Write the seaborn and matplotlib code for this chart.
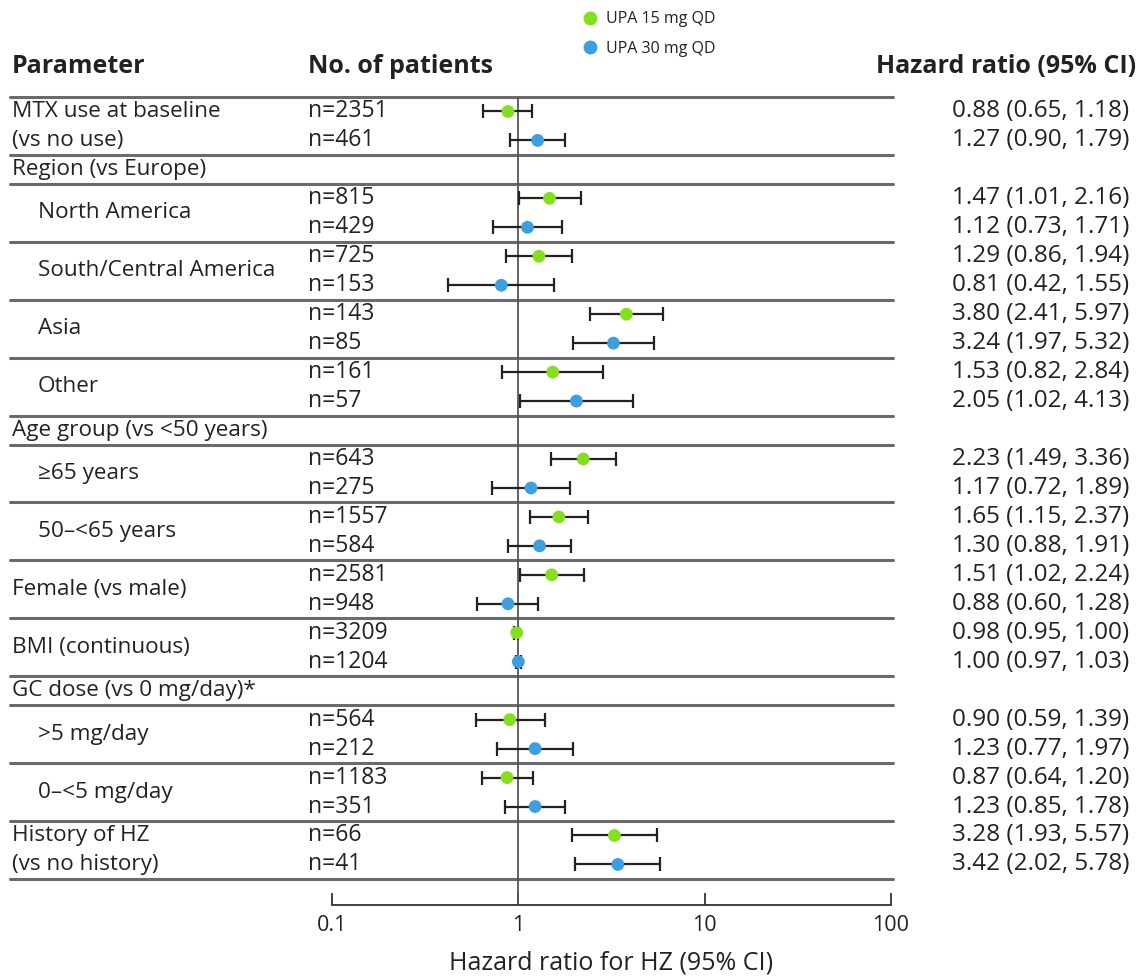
import pandas as pd
import matplotlib.pyplot as plt
import matplotlib.transforms as mtransforms
from matplotlib.lines import Line2D
import seaborn as sns

# subgroup labels (two-line labels split by \n)
labels = ["MTX use at baseline\n(vs no use)", "North America", "South/Central America",
          "Asia", "Other", "\u226565 years", "50\u2013<65 years", "Female (vs male)",
          "BMI (continuous)", ">5 mg/day", "0\u2013<5 mg/day", "History of HZ\n(vs no history)"]
headers = {1: "Region (vs Europe)", 5: "Age group (vs <50 years)", 9: "GC dose (vs 0 mg/day)*"}
indented = [1, 2, 3, 4, 5, 6, 9, 10]

n15 = [2351, 815, 725, 143, 161, 643, 1557, 2581, 3209, 564, 1183, 66]
n30 = [461, 429, 153, 85, 57, 275, 584, 948, 1204, 212, 351, 41]
hr15 = [0.88, 1.47, 1.29, 3.80, 1.53, 2.23, 1.65, 1.51, 0.98, 0.90, 0.87, 3.28]
lo15 = [0.65, 1.01, 0.86, 2.41, 0.82, 1.49, 1.15, 1.02, 0.95, 0.59, 0.64, 1.93]
hi15 = [1.18, 2.16, 1.94, 5.97, 2.84, 3.36, 2.37, 2.24, 1.00, 1.39, 1.20, 5.57]
hr30 = [1.27, 1.12, 0.81, 3.24, 2.05, 1.17, 1.30, 0.88, 1.00, 1.23, 1.23, 3.42]
lo30 = [0.90, 0.73, 0.42, 1.97, 1.02, 0.72, 0.88, 0.60, 0.97, 0.77, 0.85, 2.02]
hi30 = [1.79, 1.71, 1.55, 5.32, 4.13, 1.89, 1.91, 1.28, 1.03, 1.97, 1.78, 5.78]

arms = ["UPA 15 mg QD", "UPA 30 mg QD"]
colors = {"UPA 15 mg QD": "#84e01f", "UPA 30 mg QD": "#3d9fe0"}
xticks = [0.1, 1, 10, 100]
xticklabels = ["0.1", "1", "10", "100"]

sns.set_style("white")
plt.rcParams['font.family'] = ['Open Sans', 'DejaVu Sans']

W, H = 1138, 976
fig = plt.figure(figsize=(W / 100, H / 100), dpi=100)
ax = fig.add_axes([332 / W, 1 - 905 / H, (891 - 332) / W, (905 - 97) / H])
ax.set_facecolor("none")

# build row layout and long table
rows = []
lines_y = [0]
header_rows = []
y = 0
for i, lab in enumerate(labels):
    if i in headers:
        header_rows.append((headers[i], y + 0.5))
        y += 1
        lines_y.append(y)
    rows.append(dict(group=i, arm=arms[0], n=n15[i], hr=hr15[i], lo=lo15[i], hi=hi15[i], y=y + 0.5))
    rows.append(dict(group=i, arm=arms[1], n=n30[i], hr=hr30[i], lo=lo30[i], hi=hi30[i], y=y + 1.5))
    y += 2
    lines_y.append(y)
df = pd.DataFrame(rows)
nrows = y

# CIs and points
ax.errorbar(df["hr"], df["y"], xerr=[df["hr"] - df["lo"], df["hi"] - df["hr"]],
            fmt="none", ecolor="#222222", elinewidth=1.6, capsize=5, capthick=1.6, zorder=2)
sns.scatterplot(data=df, x="hr", y="y", hue="arm", palette=colors, s=85,
                edgecolor="none", ax=ax, zorder=3)
ax.axvline(1, color="#555555", lw=1.3, zorder=1)

ax.set_xscale("log")
ax.set_xlim(0.1, 100)
ax.set_ylim(nrows + 0.9, 0)
ax.set_xticks(xticks)
ax.set_xticklabels(xticklabels, fontsize=15.5, color="#222222")
ax.minorticks_off()
ax.tick_params(axis="x", bottom=True, direction="in", length=9, width=1.3, color="#333333", pad=7)
ax.set_yticks([])
for s in ["top", "left", "right"]:
    ax.spines[s].set_visible(False)
ax.spines["bottom"].set_color("#333333")
ax.spines["bottom"].set_linewidth(1.3)
ax.set_xlabel("Hazard ratio for HZ (95% CI)", fontsize=18, color="#222222", labelpad=11)
ax.set_ylabel("")

# separator lines across the table
trans = mtransforms.blended_transform_factory(fig.transFigure, ax.transData)
for ly in lines_y:
    fig.add_artist(Line2D([10 / W, 893 / W], [ly, ly], transform=trans,
                          color="#6a6a6a", lw=2.2, zorder=0))

tc = "#222222"
fs = 16.2
fs_n = 16.5
fs_hr = 17.5
fs_head = 18
x_lab, x_ind, x_n, x_hr = 12 / W, 38 / W, 308 / W, 1129 / W

# column headers
hy = -1.07
fig.text(x_lab, hy, "Parameter", transform=trans, fontsize=fs_head, fontweight="bold", color=tc, va="center")
fig.text(x_n, hy, "No. of patients", transform=trans, fontsize=fs_head, fontweight="bold", color=tc, va="center")
fig.text(1136 / W, hy, "Hazard ratio (95% CI)", transform=trans, fontsize=fs_head, fontweight="bold",
         color=tc, va="center", ha="right")

for text, hyy in header_rows:
    fig.text(x_lab, hyy, text, transform=trans, fontsize=fs, color=tc, va="center")

for i, lab in enumerate(labels):
    sub = df[df["group"] == i]
    ys = sub["y"].tolist()
    xx = x_ind if i in indented else x_lab
    parts = lab.split("\n")
    if len(parts) == 2:
        for p, yy in zip(parts, ys):
            fig.text(xx, yy, p, transform=trans, fontsize=fs, color=tc, va="center")
    else:
        fig.text(xx, sum(ys) / 2, lab, transform=trans, fontsize=fs, color=tc, va="center")
    for _, r in sub.iterrows():
        fig.text(x_n, r["y"], f"n={r['n']}", transform=trans, fontsize=fs_n, color=tc, va="center")
        fig.text(x_hr, r["y"], f"{r['hr']:.2f} ({r['lo']:.2f}, {r['hi']:.2f})", transform=trans,
                 fontsize=fs_hr, color=tc, va="center", ha="right")

# legend at the top
handles = [Line2D([], [], marker="o", ls="", color=colors[a], markersize=9) for a in arms]
ax.legend(handles, arms, loc="upper left", bbox_to_anchor=(580 / W, 1 - 8 / H),
          bbox_transform=fig.transFigure, frameon=False, fontsize=11.5,
          handlelength=0.9, handletextpad=0.5, labelspacing=0.85, labelcolor=tc,
          borderaxespad=0, borderpad=0.2)

fig.savefig("out.png", dpi=100)
